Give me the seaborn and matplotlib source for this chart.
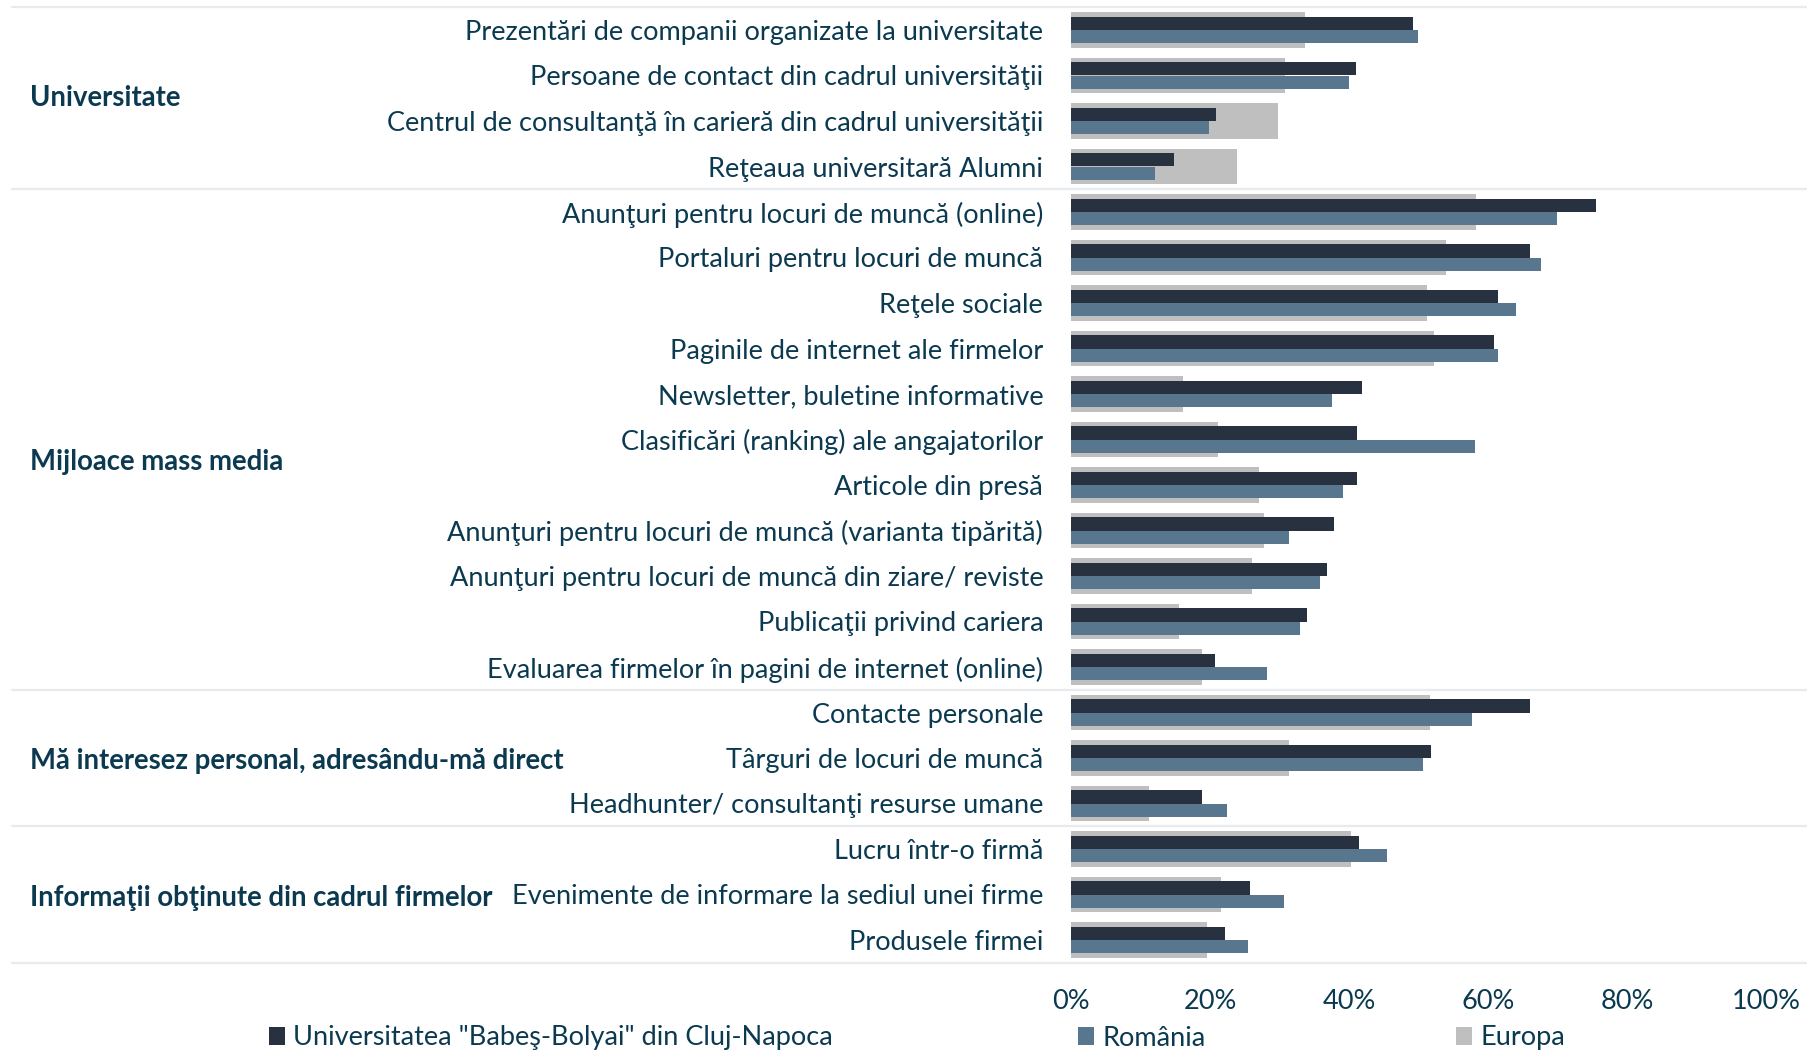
import matplotlib
matplotlib.use("Agg")
import matplotlib.pyplot as plt
import matplotlib.transforms as mtransforms
from matplotlib.patches import Patch
from matplotlib.ticker import FuncFormatter
import seaborn as sns
import pandas as pd

# Information sources used when looking for a job (% of respondents)
categories = [
    "Prezentări de companii organizate la universitate",
    "Persoane de contact din cadrul universităţii",
    "Centrul de consultanţă în carieră din cadrul universităţii",
    "Reţeaua universitară Alumni",
    "Anunţuri pentru locuri de muncă (online)",
    "Portaluri pentru locuri de muncă",
    "Reţele sociale",
    "Paginile de internet ale firmelor",
    "Newsletter, buletine informative",
    "Clasificări (ranking) ale angajatorilor",
    "Articole din presă",
    "Anunţuri pentru locuri de muncă (varianta tipărită)",
    "Anunţuri pentru locuri de muncă din ziare/ reviste",
    "Publicaţii privind cariera",
    "Evaluarea firmelor în pagini de internet (online)",
    "Contacte personale",
    "Târguri de locuri de muncă",
    "Headhunter/ consultanţi resurse umane",
    "Lucru într-o firmă",
    "Evenimente de informare la sediul unei firme",
    "Produsele firmei",
]

cluj = [49.2, 41.0, 20.9, 14.8, 75.5, 66.1, 61.5, 60.8, 41.8, 41.1, 41.1,
        37.8, 36.9, 34.0, 20.7, 66.1, 51.8, 18.9, 41.4, 25.8, 22.2]
romania = [49.9, 40.0, 19.9, 12.1, 70.0, 67.6, 64.0, 61.5, 37.6, 58.2, 39.1,
           31.4, 35.8, 33.0, 28.2, 57.7, 50.6, 22.4, 45.5, 30.6, 25.5]
europa = [33.7, 30.8, 29.8, 23.9, 58.3, 53.9, 51.2, 52.2, 16.1, 21.1, 27.1,
          27.8, 26.0, 15.6, 18.8, 51.6, 31.3, 11.2, 40.3, 21.6, 19.6]

series_names = ['Universitatea "Babeş-Bolyai" din Cluj-Napoca', "România", "Europa"]

groups = ["Universitate", "Mijloace mass media",
          "Mă interesez personal, adresându-mă direct",
          "Informaţii obţinute din cadrul firmelor"]
group_label_rows = [1.5, 9.5, 16.07, 19.07]
group_bounds = [-0.5, 3.5, 14.5, 17.5, 20.5]

ticks = [0, 20, 40, 60, 80, 100]

colors = {series_names[0]: "#28313F", series_names[1]: "#58768D", series_names[2]: "#BFBFBF"}
text_color = "#0B3A50"
sep_color = "#E6EBF0"

sns.set_theme(style="white")
plt.rcParams["font.family"] = ["Lato", "DejaVu Sans"]

long = pd.DataFrame({
    "categorie": categories * 2,
    "valoare": cluj + romania,
    "serie": [series_names[0]] * len(categories) + [series_names[1]] * len(categories),
})
eu = pd.DataFrame({"categorie": categories, "valoare": europa})

fig = plt.figure(figsize=(18.08, 10.51), dpi=100)
ax = fig.add_axes([1071 / 1808, 1 - 962.75 / 1051, 695 / 1808, 955.5 / 1051])

# Europe as a wide background bar, the two other series dodged on top of it
sns.barplot(data=eu, y="categorie", x="valoare", order=categories, orient="h",
            color=colors[series_names[2]], width=0.79, linewidth=0,
            saturation=1, errorbar=None, ax=ax)
sns.barplot(data=long, y="categorie", x="valoare", hue="serie", order=categories,
            hue_order=series_names[:2], palette=colors, orient="h", width=0.58,
            dodge=True, linewidth=0, saturation=1, errorbar=None, legend=False, ax=ax)

ax.set_xlim(0, 100)
ax.set_ylim(20.5, -0.5)
ax.set_xticks(ticks)
ax.xaxis.set_major_formatter(FuncFormatter(lambda v, _: f"{v:.0f}%"))
ax.set_xlabel("")
ax.set_ylabel("")
for s in ax.spines.values():
    s.set_visible(False)
ax.tick_params(axis="y", length=0, pad=20, labelsize=19.5, labelcolor=text_color)
ax.tick_params(axis="x", length=0, pad=19, labelsize=19.5, labelcolor=text_color)

# Group separators spanning the whole width
x0 = (12 - 1071) / 695
x1 = (1808 - 1071) / 695
for yb in group_bounds:
    ax.axhline(yb, xmin=x0, xmax=x1, color=sep_color, lw=1.6, clip_on=False, zorder=0)

# Group names on the left
trans = mtransforms.blended_transform_factory(fig.transFigure, ax.transData)
for name, row in zip(groups, group_label_rows):
    ax.text(30 / 1808, row, name, transform=trans, ha="left", va="center",
            fontsize=19.8, fontweight="bold", color=text_color)

# Legend entries along the bottom edge
legend_x = [269, 1078, 1456]
for name, lx in zip(series_names, legend_x):
    fig.legend(handles=[Patch(facecolor=colors[name], edgecolor="none", label=name)],
               loc="center left", bbox_to_anchor=(lx / 1808, 1 - 1038 / 1051),
               frameon=False, borderpad=0, borderaxespad=0, handlelength=0.6,
               handleheight=0.6, handletextpad=0.3, fontsize=19.5,
               labelcolor=text_color)

fig.savefig("out.png", dpi=100, facecolor="white")
